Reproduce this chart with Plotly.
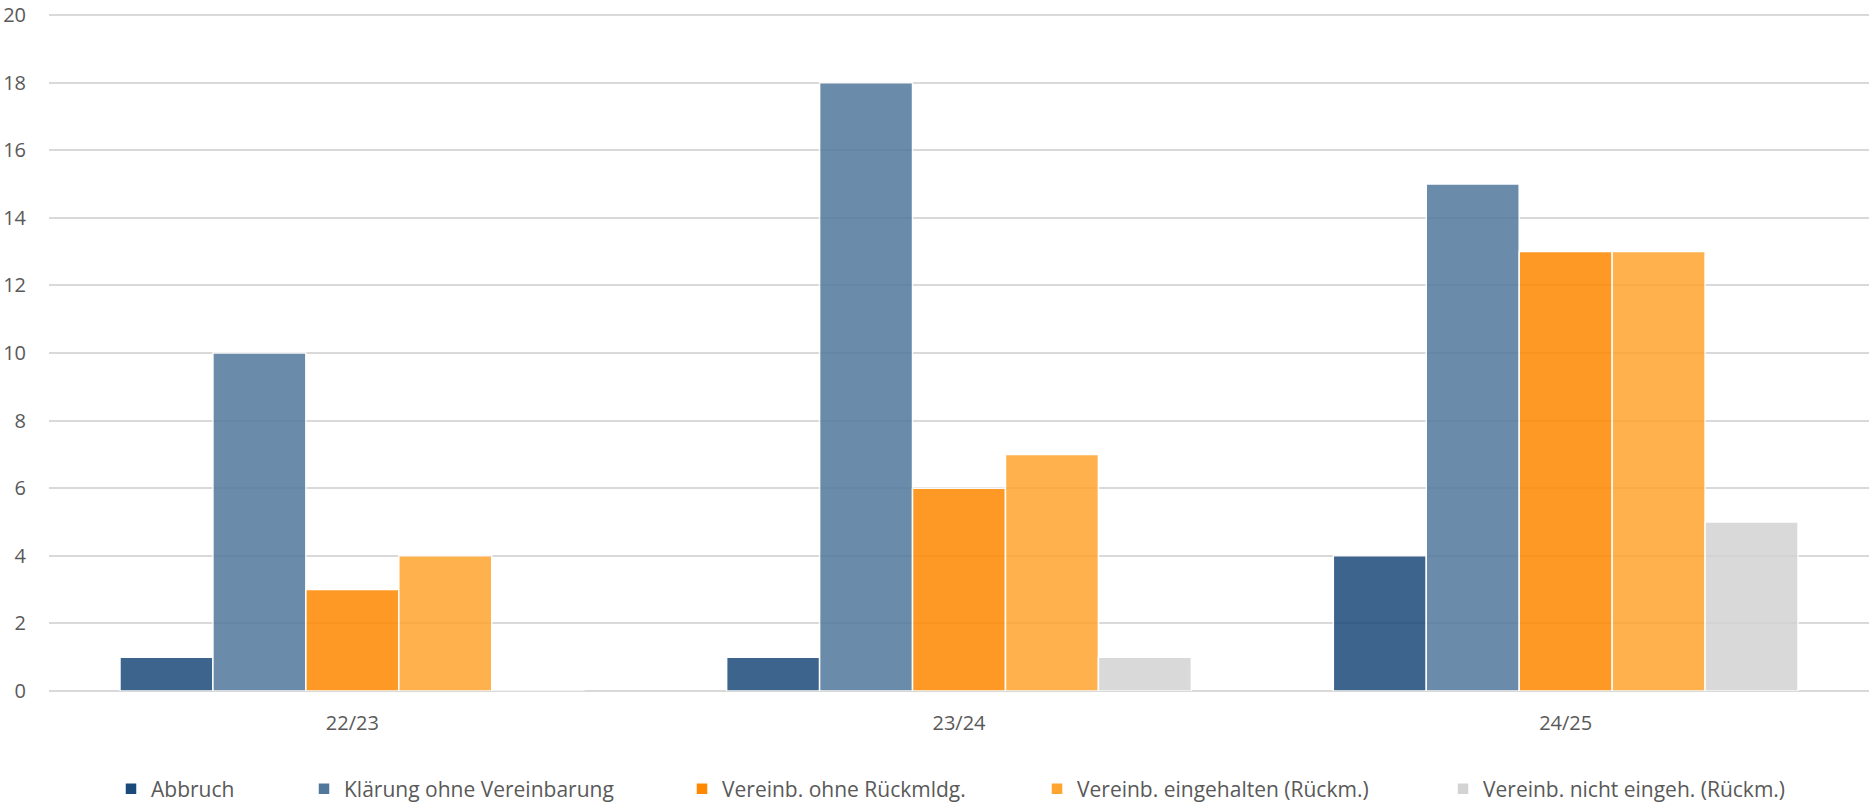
import plotly.graph_objects as go

categories = ["22/23", "23/24", "24/25"]
series_names = [
    "Abbruch",
    "Klärung ohne Vereinbarung",
    "Vereinb. ohne Rückmldg.",
    "Vereinb. eingehalten (Rückm.)",
    "Vereinb. nicht eingeh. (Rückm.)",
]
abbruch = [1, 1, 4]
klaerung = [10, 18, 15]
vereinb_ohne = [3, 6, 13]
vereinb_eingehalten = [4, 7, 13]
vereinb_nicht = [0, 1, 5]
y_ticks = list(range(0, 21, 2))

colors = ["#1B497A", "#51789C", "#FF8800", "#FFA42F", "#D3D3D3"]
values = [abbruch, klaerung, vereinb_ohne, vereinb_eingehalten, vereinb_nicht]

# layout geometry (pixels)
W, H = 1870, 803
ML, MR, MT, MB = 49, 1, 13, 112
PW, PH = W - ML - MR, H - MT - MB
legend_marker_px = [129, 322, 700, 1055, 1461]
legend_center_y = 789

font_family = "Open Sans, Lato, sans-serif"
txt_color = "#595959"

fig = go.Figure()
legend_layouts = {}
for i, (name, vals, col) in enumerate(zip(series_names, values, colors)):
    lname = "legend" if i == 0 else f"legend{i + 1}"
    fig.add_trace(go.Bar(
        x=categories, y=vals, name=name, legend=lname, showlegend=True,
        marker=dict(color=col, opacity=0.85, line=dict(color="white", width=1.5)),
    ))
    legend_layouts[lname] = dict(
        xref="container", yref="container",
        x=(legend_marker_px[i] - 18) / W, xanchor="left",
        y=1 - legend_center_y / H, yanchor="middle",
        orientation="h", bgcolor="rgba(0,0,0,0)", borderwidth=0,
        font=dict(family=font_family, size=21, color=txt_color), itemclick=False,
    )

fig.update_layout(
    width=W, height=H, showlegend=True,
    paper_bgcolor="white", plot_bgcolor="white",
    barmode="group", bargap=0.234, bargroupgap=0,
    margin=dict(l=ML, r=MR, t=MT, b=MB, autoexpand=False),
    font=dict(family=font_family, size=20, color=txt_color),
    xaxis=dict(showgrid=False, showline=False, ticks="", tickfont=dict(size=20),
               ticklabelstandoff=18),
    yaxis=dict(range=[0, 20.06], tickvals=y_ticks, showgrid=True, gridcolor="#D9D9D9",
               gridwidth=1.5, zeroline=True, zerolinecolor="#D9D9D9", zerolinewidth=1.5,
               showline=False, ticks="", tickfont=dict(size=20), ticklabelstandoff=22,
               ticklabeloverflow="allow"),
    **legend_layouts,
)

fig.write_html("out.html", config={"displayModeBar": False},
               post_script="document.body.style.margin='0';")
